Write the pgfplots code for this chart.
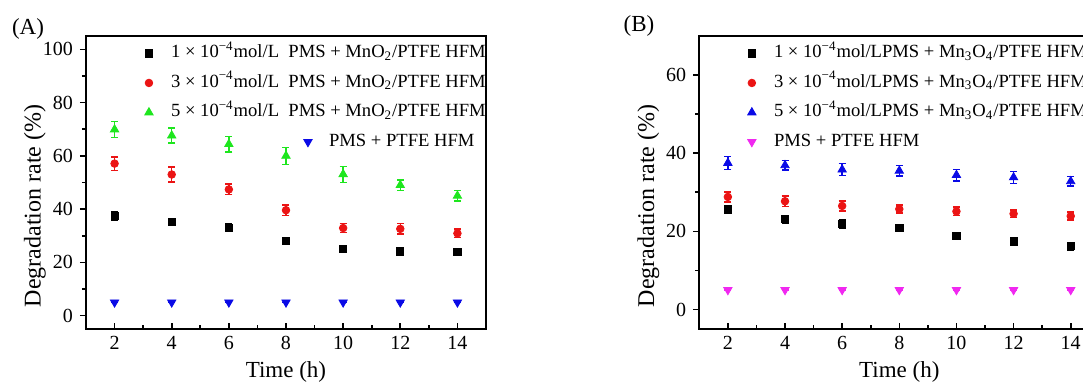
\documentclass[border=0pt]{standalone}
\usepackage{fontspec}
\setmainfont{Liberation Serif}
\usepackage{pgfplots}
\pgfplotsset{compat=1.18}
\definecolor{cgreen}{RGB}{30,230,30}
\definecolor{cblue}{RGB}{10,10,230}
\definecolor{cred}{RGB}{235,20,20}
\definecolor{cmag}{RGB}{240,40,240}

\pgfplotsset{
  common/.style={
    scale only axis, width=200pt, height=146.5pt,
    xmin=1, xmax=15, xtick={2,4,...,14}, minor x tick num=1,
    minor y tick num=1,
    xtick align=inside, ytick align=outside, tick pos=left,
    major tick length=3pt, minor tick length=2pt,
    axis line style={line width=0.9pt},
    every tick/.style={line width=0.8pt, black},
    tick label style={font=\fontsize{10}{12}\selectfont},
    /pgf/number format/assume math mode=true,
    every axis y label/.style={at={(axis description cs:-0.1275,0.42)}, rotate=90, anchor=center, font=\fontsize{12}{14}\selectfont},
    every axis x label/.style={at={(axis description cs:0.5,-0.148)}, anchor=center, font=\fontsize{11.5}{13}\selectfont},
    xlabel={Time (h)}, ylabel={Degradation rate (\%)},
    legend cell align=left,
    legend style={draw=none, fill=none, inner sep=0pt,
      font=\fontsize{9.3}{11}\selectfont, row sep=3.25pt,
      nodes={inner sep=1pt, text height=7pt, text depth=2.5pt},
      /tikz/every odd column/.append style={column sep=8pt}},
  },
  eb/.style={only marks,
      legend image code/.code={\draw[##1] plot coordinates {(0pt,0pt)};},
      /pgfplots/error bars/y dir=both, /pgfplots/error bars/y explicit,
      /pgfplots/error bars/error bar style={line width=0.7pt},
      /pgfplots/error bars/error mark options={rotate=90, mark size=1.75pt, line width=0.7pt}},
  shiftleg/.style={legend image code/.code={\draw[##1, overlay, xshift=79.5pt] plot coordinates {(0pt,0pt)};}},
}

\begin{document}
\begin{tikzpicture}
\useasboundingbox (0,0) rectangle (541.5pt,192.5pt);
\begin{scope}
\clip (0,0) rectangle (541.5pt,192.5pt);
% ---------------- Panel A ----------------
\begin{axis}[common, at={(43pt,28pt)}, anchor=south west,
  ymin=-5, ymax=105, ytick={0,20,...,100},
  legend style={at={(axis description cs:0.146,0.981)}, anchor=north west}]
\addplot[eb, black, mark=square*, mark size=1.8pt] table[x=x, y=y, y error=e] {
x y e
2 37.4 1.5
4 35.3 1.0
6 33.0 1.5
8 28.1 0.8
10 25.0 0.8
12 24.1 1.0
14 24.0 0.9
};
\addlegendentry{1 × 10\textsuperscript{−4}mol/L\ \ PMS + MnO\textsubscript{2}/PTFE HFM}
\addplot[eb, cred, mark=*, mark size=1.9pt] table[x=x, y=y, y error=e] {
x y e
2 57.1 2.5
4 53.0 2.8
6 47.4 2.0
8 39.6 1.9
10 32.9 1.6
12 32.6 2.0
14 30.9 1.6
};
\addlegendentry{3 × 10\textsuperscript{−4}mol/L\ \ PMS + MnO\textsubscript{2}/PTFE HFM}
\addplot[eb, cgreen, mark=triangle*, mark size=2.4pt] table[x=x, y=y, y error=e] {
x y e
2 69.9 2.9
4 67.6 2.8
6 64.4 2.9
8 60.0 3.2
10 53.1 3.0
12 49.0 1.9
14 45.0 2.0
};
\addlegendentry{5 × 10\textsuperscript{−4}mol/L\ \ PMS + MnO\textsubscript{2}/PTFE HFM}
\addplot[eb, shiftleg, cblue, mark=triangle*, mark size=2.4pt, mark options={rotate=180}]
  table[x=x, y=y, y error=e] {
x y e
2 5.0 0
4 5.0 0
6 5.0 0
8 5.0 0
10 5.0 0
12 5.0 0
14 5.0 0
};
\addlegendentry{\hspace*{79pt}PMS + PTFE HFM}
\end{axis}
% ---------------- Panel B ----------------
\begin{axis}[common, at={(349.65pt,28pt)}, anchor=south west,
  ymin=-5, ymax=70, ytick={0,20,40,60},
  legend style={at={(axis description cs:0.12,0.981)}, anchor=north west}]
\addplot[eb, black, mark=square*, mark size=1.8pt] table[x=x, y=y, y error=e] {
x y e
2 25.6 1.0
4 23.1 1.0
6 22.0 1.1
8 20.8 0.7
10 18.9 0.7
12 17.4 1.0
14 16.2 1.0
};
\addlegendentry{1 × 10\textsuperscript{−4}mol/LPMS + Mn\textsubscript{3}O\textsubscript{4}/PTFE HFM}
\addplot[eb, cred, mark=*, mark size=1.9pt] table[x=x, y=y, y error=e] {
x y e
2 28.8 1.3
4 27.7 1.3
6 26.5 1.3
8 25.7 1.0
10 25.1 1.1
12 24.5 1.0
14 23.9 1.0
};
\addlegendentry{3 × 10\textsuperscript{−4}mol/LPMS + Mn\textsubscript{3}O\textsubscript{4}/PTFE HFM}
\addplot[eb, cblue, mark=triangle*, mark size=2.4pt] table[x=x, y=y, y error=e] {
x y e
2 37.5 1.7
4 36.9 1.2
6 35.8 1.5
8 35.5 1.3
10 34.4 1.5
12 33.8 1.5
14 32.8 1.2
};
\addlegendentry{5 × 10\textsuperscript{−4}mol/LPMS + Mn\textsubscript{3}O\textsubscript{4}/PTFE HFM}
\addplot[eb, cmag, mark=triangle*, mark size=2.4pt, mark options={rotate=180}]
  table[x=x, y=y, y error=e] {
x y e
2 5.0 0
4 5.0 0
6 5.0 0
8 5.0 0
10 5.0 0
12 5.0 0
14 5.0 0
};
\addlegendentry{PMS + PTFE HFM}
\end{axis}
\end{scope}
\node[font=\fontsize{11.5}{13}\selectfont] at (14pt,178pt) {(A)};
\node[font=\fontsize{11.5}{13}\selectfont] at (319.5pt,179.5pt) {(B)};
\end{tikzpicture}
\end{document}
